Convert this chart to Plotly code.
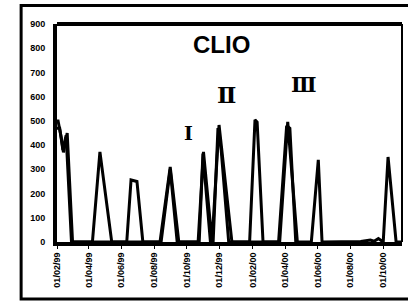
import plotly.graph_objects as go

# main series (dates, values)
dates_a = ["1999-02-01", "1999-02-03", "1999-02-09", "1999-02-13", "1999-02-20", "1999-02-25", "1999-03-02",
           "1999-04-08", "1999-04-22", "1999-05-14",
           "1999-06-11", "1999-06-19", "1999-06-30", "1999-07-11",
           "1999-08-12", "1999-08-31", "1999-09-16",
           "1999-10-22", "1999-11-01", "1999-11-17",
           "1999-11-30", "1999-12-24",
           "2000-01-26", "2000-02-05", "2000-02-09", "2000-02-20",
           "2000-03-22", "2000-04-06", "2000-04-24",
           "2000-05-20", "2000-06-02", "2000-06-09",
           "2000-07-31", "2000-08-20", "2000-09-07", "2000-09-14", "2000-09-22",
           "2000-10-01", "2000-10-10", "2000-10-25", "2000-11-05"]
values_a = [500, 500, 430, 370, 450, 250, 0,
            0, 372, 0,
            0, 256, 250, 0,
            0, 310, 0,
            0, 372, 0,
            483, 0,
            0, 504, 495, 0,
            0, 496, 0,
            0, 339, 0,
            0, 2, 8, 3, 14,
            0, 351, 0, 0]

# overlapping second series (thickens some peaks)
dates_b = ["1999-02-01", "1999-02-06", "1999-02-12", "1999-02-18", "1999-02-28",
           "1999-08-14", "1999-08-31", "1999-09-13",
           "1999-10-24", "1999-10-31", "1999-11-14",
           "1999-11-19", "1999-11-28", "1999-12-04", "1999-12-18",
           "2000-03-20", "2000-04-04", "2000-04-10", "2000-04-21"]
values_b = [470, 470, 380, 440, 0,
            0, 300, 0,
            0, 365, 0,
            0, 470, 380, 0,
            0, 480, 470, 0]

y_ticks = [0, 100, 200, 300, 400, 500, 600, 700, 800, 900]
x_ticks = ["1999-02-01", "1999-04-01", "1999-06-01", "1999-08-01", "1999-10-01", "1999-12-01",
           "2000-02-01", "2000-04-01", "2000-06-01", "2000-08-01", "2000-10-01"]
x_tick_labels = ["01/02/99", "01/04/99", "01/06/99", "01/08/99", "01/10/99", "01/12/99",
                 "01/02/00", "01/04/00", "01/06/00", "01/08/00", "01/10/00"]

fig = go.Figure()
fig.add_trace(go.Scatter(x=dates_b, y=values_b, mode="lines",
                         line=dict(color="black", width=3), hoverinfo="skip"))
fig.add_trace(go.Scatter(x=dates_a, y=values_a, mode="lines",
                         line=dict(color="black", width=3)))

fig.update_layout(
    width=408, height=302,
    margin=dict(l=57, r=6, t=24, b=60, autoexpand=False),
    paper_bgcolor="white", plot_bgcolor="white",
    showlegend=False,
    font=dict(family="Liberation Sans", color="black", size=9),
)
fig.update_xaxes(
    range=["1999-02-01", "2000-11-05"],
    tickvals=x_ticks, ticktext=x_tick_labels, tickangle=-90,
    showgrid=False, zeroline=False, automargin=False,
    showline=True, linecolor="black", linewidth=4, mirror=False,
    ticks="outside", ticklen=3, tickcolor="black", tickwidth=1,
    tickfont=dict(family="Liberation Sans", size=9, color="black", weight="bold"),
)
fig.update_yaxes(
    range=[0, 900], tickvals=y_ticks,
    showgrid=False, zeroline=False, automargin=False,
    showline=True, linecolor="black", linewidth=4, mirror=False,
    ticks="", ticklabelstandoff=6,
    tickfont=dict(family="Liberation Sans", size=9, color="black", weight="bold"),
)

shapes = [
    # top and right frame of plot
    dict(type="line", xref="paper", yref="paper", x0=0, x1=1, y0=1, y1=1,
         line=dict(color="black", width=4)),
    dict(type="line", xref="paper", yref="paper", x0=1, x1=1, y0=0, y1=1,
         line=dict(color="black", width=2)),
    # outer border
    dict(type="rect", xref="paper", yref="paper", x0=-0.104, x1=1.03, y0=-0.262, y1=1.085,
         line=dict(color="black", width=3)),
]
fig.update_layout(shapes=shapes)

annotations = [
    dict(x="1999-12-04", y=816, text="<b>CLIO</b>", showarrow=False,
         font=dict(family="Liberation Sans", size=24, color="black")),
    dict(x="1999-10-04", y=452, text="<b>Ⅰ</b>", showarrow=False,
         font=dict(family="DejaVu Serif", size=19, color="black")),
    dict(x="1999-12-14", y=607, text="<b>Ⅱ</b>", showarrow=False,
         font=dict(family="DejaVu Serif", size=23, color="black")),
    dict(x="2000-05-06", y=652, text="<b>Ⅲ</b>", showarrow=False,
         font=dict(family="DejaVu Serif", size=21, color="black")),
]
fig.update_layout(annotations=annotations)

fig.write_html("out.html", config={"displayModeBar": False},
               post_script="document.body.style.margin='0px';")
